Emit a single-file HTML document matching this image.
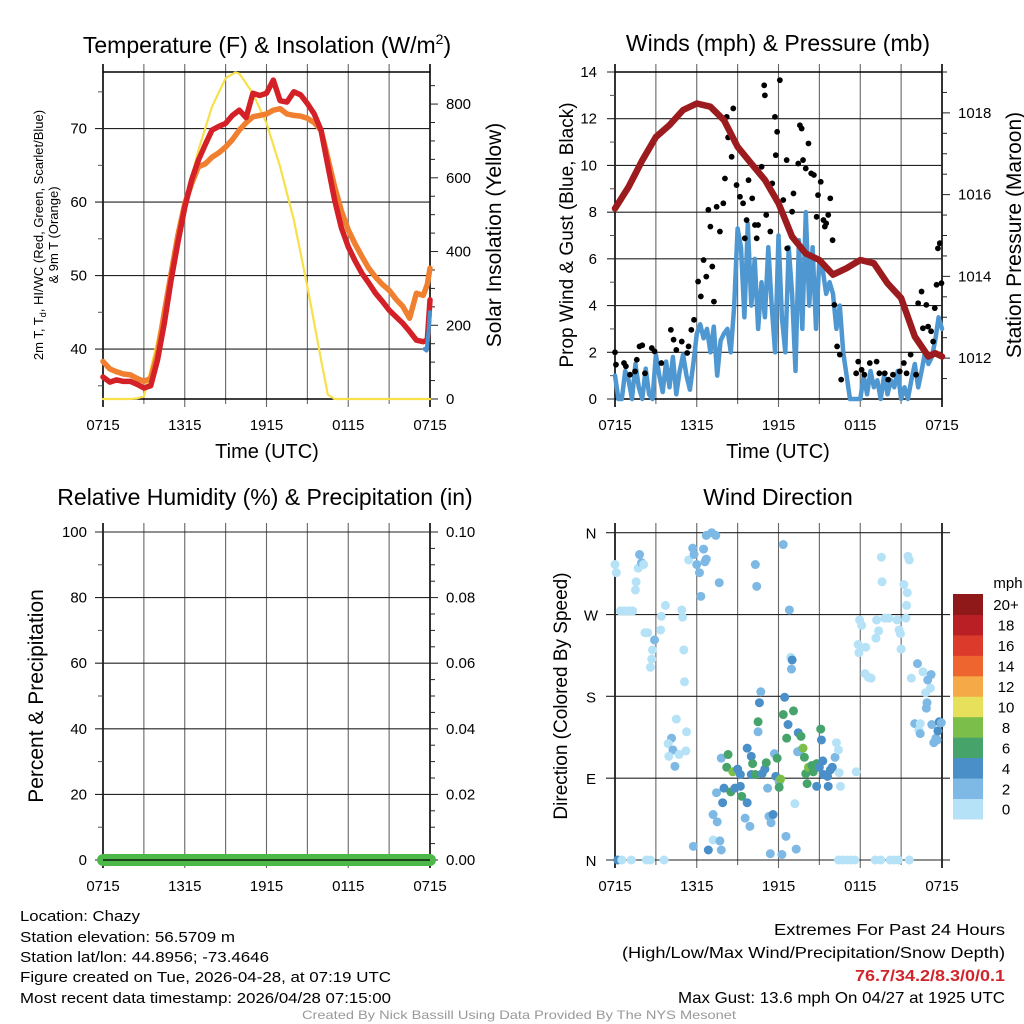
<!DOCTYPE html>
<html><head><meta charset="utf-8"><style>
html,body{margin:0;padding:0;background:#fff;}
svg{display:block;font-family:"Liberation Sans",Arial,sans-serif;}
</style></head><body>
<svg id="fig" width="1024" height="1024" viewBox="0 0 1024 1024" xmlns="http://www.w3.org/2000/svg">
<rect width="1024" height="1024" fill="#fff"/>
<g id="p1"></g>
<g id="p2"></g>
<g id="p3"></g>
<g id="p4"></g>
<text x="267" y="53" font-size="23" text-anchor="middle">Temperature (F) &amp; Insolation (W/m<tspan font-size="14" dy="-9">2</tspan><tspan dy="9">)</tspan></text>
<text x="778" y="51" font-size="23" text-anchor="middle">Winds (mph) &amp; Pressure (mb)</text>
<text x="265" y="505" font-size="23" text-anchor="middle">Relative Humidity (%) &amp; Precipitation (in)</text>
<text x="778" y="505" font-size="23" text-anchor="middle">Wind Direction</text>
<text transform="translate(43,235) rotate(-90)" font-size="13" text-anchor="middle">2m T, T<tspan font-size="9" dy="3">d</tspan><tspan dy="-3">, HI/WC (Red, Green, Scarlet/Blue)</tspan></text>
<text transform="translate(58,235) rotate(-90)" font-size="13" text-anchor="middle">&amp; 9m T (Orange)</text>
<text transform="translate(501,235) rotate(-90)" font-size="21" text-anchor="middle">Solar Insolation (Yellow)</text>
<text transform="translate(573,235) rotate(-90)" font-size="19" text-anchor="middle">Prop Wind &amp; Gust (Blue, Black)</text>
<text transform="translate(1021,235) rotate(-90)" font-size="21" text-anchor="middle">Station Pressure (Maroon)</text>
<text transform="translate(43,696) rotate(-90)" font-size="21" text-anchor="middle">Percent &amp; Precipitation</text>
<text transform="translate(567,696) rotate(-90)" font-size="19" text-anchor="middle">Direction (Colored By Speed)</text>
<text x="267" y="458" font-size="20" text-anchor="middle">Time (UTC)</text>
<text x="778" y="458" font-size="20" text-anchor="middle">Time (UTC)</text>
<g font-size="15">
<text x="20" y="921" textLength="120" lengthAdjust="spacingAndGlyphs">Location: Chazy</text>
<text x="20" y="942" textLength="215" lengthAdjust="spacingAndGlyphs">Station elevation: 56.5709 m</text>
<text x="20" y="962" textLength="249" lengthAdjust="spacingAndGlyphs">Station lat/lon: 44.8956; -73.4646</text>
<text x="20" y="982" textLength="371" lengthAdjust="spacingAndGlyphs">Figure created on Tue, 2026-04-28, at 07:19 UTC</text>
<text x="20" y="1003" textLength="371" lengthAdjust="spacingAndGlyphs">Most recent data timestamp: 2026/04/28 07:15:00</text>
</g>
<g font-size="16" text-anchor="end">
<text x="1005" y="935" textLength="231" lengthAdjust="spacingAndGlyphs">Extremes For Past 24 Hours</text>
<text x="1005" y="958" textLength="383" lengthAdjust="spacingAndGlyphs">(High/Low/Max Wind/Precipitation/Snow Depth)</text>
<text x="1005" y="981" fill="#d0262b" font-weight="bold" textLength="150" lengthAdjust="spacingAndGlyphs">76.7/34.2/8.3/0/0.1</text>
<text x="1005" y="1003" textLength="327" lengthAdjust="spacingAndGlyphs">Max Gust: 13.6 mph On 04/27 at 1925 UTC</text>
</g>
<text x="519" y="1019" font-size="12" fill="#999" text-anchor="middle" textLength="434" lengthAdjust="spacingAndGlyphs">Created By Nick Bassill Using Data Provided By The NYS Mesonet</text>
</svg>
<script>
// ---- data ----
const timeLabels = ["0715","1315","1915","0115","0715"];
const tempHours = [0,0.5,1,1.5,2,2.5,3,3.5,4,4.5,5,5.5,6,6.5,7,7.5,8,8.5,9,9.5,10,10.5,11,11.5,12,12.5,13,13.5,14,14.5,15,15.5,16,16.5,17,17.5,18,18.5,19,19.5,20,20.5,21,21.5,22,22.5,23,23.5,23.8,24];
const temp2m = [36.2,35.5,35.8,35.6,35.6,35.2,34.7,35.0,38.5,43.5,49.4,54.5,59.3,63.0,65.7,67.8,69.8,70.3,70.7,71.8,72.5,71.5,74.8,74.5,74.8,76.6,73.8,73.6,75.0,74.6,73.4,72.0,69.8,65.0,60.3,56.5,53.9,52.0,50.3,49.0,47.6,46.5,45.3,44.4,43.5,42.4,41.2,41.0,41.2,46.7];
const temp9m = [38.3,37.3,36.9,36.6,36.5,36.0,35.6,36.0,39.4,45.0,50.3,55.5,59.8,62.5,64.8,65.2,66.1,66.7,67.5,68.5,69.8,70.8,71.6,71.8,72.0,72.5,72.7,72.0,71.8,71.7,71.4,70.8,69.8,66.0,62.1,58.8,56.2,54.3,52.6,51.0,49.8,48.8,48.0,46.8,45.8,44.2,47.6,47.3,48.8,51.0];
const windChillHours = [23.6,23.75,23.9,24];
const windChill = [40.0,39.8,42.5,45.0];
const solarHours = [0,2,2.5,3,3.5,4,5,6,7,8,9,9.7,10,11,12,13,14,15,16,16.5,17,24];
const solar = [0,0,2,7,80,160,332,531,675,793,870,886,883,829,748,630,486,305,107,12,0,0];

const presHours = [0,1,2,3,4,5,6,7,8,9,10,11,12,13,14,15,16,17,18,19,20,21,22,23,23.5,24];
const pressure = [1015.66,1016.19,1016.84,1017.41,1017.7,1018.07,1018.23,1018.15,1017.82,1017.17,1016.76,1016.36,1015.79,1014.97,1014.56,1014.4,1014.04,1014.2,1014.4,1014.32,1013.83,1013.47,1012.53,1012.04,1012.12,1012.04];
// quarter-hourly prop wind (mph), starting at 0715
const windSpeed = [1.0,0,0,1.2,0.8,0,1.5,0.5,0,1.3,0.2,0,1.9,1.0,0.3,1.6,0.5,1.8,0.2,1.2,1.9,1.0,0.4,1.5,
2.8,3.2,2.6,3.0,2.0,3.1,1.0,2.5,2.8,3.0,2.0,4.0,
7.3,6.5,3.5,7.5,4.0,6.0,3.0,5.0,3.5,6.5,4.0,2.0,
7.0,3.5,2.0,6.5,4.5,1.2,6.8,3.0,8.0,4.0,6.5,3.0,
6.0,5.5,4.5,5.0,4.5,3.0,4.0,2.0,1.0,0,0,0,
0,1.0,0.2,1.2,0.5,0.8,0,1.0,0.2,0.8,0.5,1.2,0,0.5,0,0.8,1.5,0.5,1.2,2.0,1.5,1.8,2.5,3.5,
3.0];
const gustHours = [0,0.07,0.66,0.8,1.1,1.47,1.6,1.8,2.0,2.2,2.7,2.9,3.4,4.1,4.3,4.5,4.9,5.3,5.4,5.6,5.8,6.1,6.3,6.5,6.7,6.85,7.0,7.14,7.26,7.46,7.7,7.95,8.07,8.2,8.3,8.56,8.68,8.92,9.17,9.4,9.53,9.66,9.8,10.07,10.27,10.4,10.5,10.76,10.95,11.0,11.1,11.4,11.54,11.74,11.8,11.9,12.1,12.35,12.6,12.64,13.0,13.1,13.45,13.57,13.7,13.8,14.0,14.2,14.4,14.6,14.8,14.9,15.1,15.3,15.4,15.5,15.65,15.8,15.97,16.1,16.3,16.5,16.6,17.7,17.85,18.1,18.3,18.7,19.2,19.4,19.8,20.05,20.4,20.9,21.2,21.4,21.7,22.1,22.25,22.5,22.6,22.85,22.98,23.2,23.35,23.47,23.6,23.7,23.84,23.96];
const gusts = [2.0,1.47,1.54,1.4,1.04,1.18,1.68,2.25,2.3,1.1,2.18,2.04,1.54,2.96,2.54,2.1,2.46,1.97,2.25,2.96,3.39,5.03,4.39,5.95,5.24,8.1,7.38,5.67,4.17,8.23,7.17,8.38,9.44,12.08,11.2,10.37,12.44,9.16,8.66,8.38,6.88,7.66,9.37,8.59,7.45,6.88,7.45,9.94,13.43,13.0,7.88,7.17,9.23,12.08,10.44,11.44,13.65,8.52,10.23,6.45,8.02,8.8,10.08,11.72,11.58,10.23,9.87,10.94,9.66,9.59,7.8,8.73,9.3,7.66,7.38,7.52,7.88,8.59,6.8,4.03,2.25,1.9,0.83,1.1,1.6,1.25,1.04,1.54,1.6,1.1,1.1,0.83,1.04,1.18,1.54,1.1,1.9,1.04,4.1,4.6,3.03,4.03,3.1,2.9,2.46,3.89,4.89,6.45,6.67,4.96];

const precipTicks = ["0.00","0.02","0.04","0.06","0.08","0.10"];
const precipHours = [0,24];
const precipValues = [0,0];

const dirHours = [0,0.1,0.4,0.7,1.0,1.3,1.5,1.55,1.7,1.8,1.95,2.1,2.2,2.4,2.9,2.75,2.7,2.6,3.4,3.7,3.35,4.9,4.96,5.05,5.1,4.5,4.15,3.9,4.25,3.95,4.4,4.7,5.25,5.2,5.4,5.7,5.8,6.0,6.2,6.3,6.5,6.6,6.7,6.7,7.1,7.4,7.65,5.75,6.85,7.2,7.7,7.8,7.2,7.5,7.45,7.8,7.9,8.0,8.3,8.2,8.5,8.65,8.8,9.0,9.2,9.2,9.3,9.55,9.7,9.9,10.0,9.7,10.0,10.1,10.3,10.3,10.4,10.5,10.6,10.7,10.5,10.8,11.0,11.1,11.2,11.3,11.4,11.45,11.6,11.7,11.9,11.8,12.05,12.15,12.05,12.25,12.35,12.35,12.45,12.55,12.6,12.7,12.8,12.9,12.95,13.0,13.1,13.2,13.3,13.4,13.45,13.55,13.65,13.8,13.9,14.0,14.1,14.2,14.45,14.55,14.8,14.8,15.0,15.1,15.15,15.25,15.3,15.6,15.65,15.8,15.95,16.15,16.25,16.4,16.45,16.55,17.7,17.95,18.1,17.85,17.9,18.4,18.35,18.6,18.8,19.2,19.35,19.15,19.55,19.6,19.8,20.1,20.7,20.85,20.95,21.0,21.2,21.4,21.35,21.45,21.5,21.6,21.75,22.2,22.6,22.95,23.2,23.15,22.8,22.9,22.85,22.0,22.4,22.3,22.4,23.25,23.4,23.55,23.7,23.8,23.95,23.65,0.2,0.5,1.2,2.3,2.6,3.6,16.4,16.7,17.0,17.3,17.6,19.1,19.5,20.2,20.5,20.8,21.6];
const dirDegrees = [325,316,274,274,274,274,297,306,321,336,327,325,250,250,242,231,221,212,268,280,253,275,267,231,196,155,134,128,121,114,103,116,141,120,330,343,336,325,316,290,342,328,331,357,360,357,305,15,11,22,21,11,50,42,74,112,63,79,116,102,75,97,79,100,94,81,70,46,63,37,94,123,114,106,94,325,301,141,173,185,152,95,100,107,79,48,7,41,50,117,112,92,86,89,80,6,347,160,179,26,134,149,275,223,210,220,164,62,12,119,140,120,136,123,113,95,84,102,104,97,106,81,102,144,132,109,94,92,81,99,102,113,129,121,96,81,97,264,258,237,228,234,205,201,200,264,252,244,333,306,266,266,264,253,249,232,303,280,266,294,334,330,200,216,207,198,204,189,184,173,167,150,150,143,139,149,129,134,142,152,151,132,0,0,0,0,0,0,0,0,0,0,0,0,0,0,0,0,0];
const dirSpeeds = [1,1,1,1,1,1,1,1,1,3,3,1,1,1,3,1,1,1,1,1,1,1,1,1,1,1,3,1,3,1,3,1,1,1,1,3,3,3,3,3,3,3,3,3,3,3,3,3,5,1,3,3,3,3,3,3,5,5,7,7,7,9,5,5,5,5,7,3,5,3,5,5,5,7,7,3,3,3,5,3,7,5,5,7,3,3,3,3,5,3,7,5,3,9,7,3,3,7,5,3,7,5,3,1,3,5,7,1,3,3,5,3,7,9,7,7,7,9,7,7,7,5,5,7,5,5,5,5,5,5,5,3,1,1,1,1,1,1,1,1,1,1,1,1,1,1,1,1,1,1,1,1,1,1,1,1,1,1,1,1,1,1,1,3,1,3,3,1,1,3,3,3,1,1,3,3,3,3,5,5,3,3,5,1,1,1,1,1,1,1,1,1,1,1,1,1,1,1,1,1];
const dirTickLabels = ["N","E","S","W","N"];
const speedBins = ["0","2","4","6","8","10","12","14","16","18","20+"];
const speedColors = ["#b5e2f7","#7db9e4","#4a8fc8","#46a46b","#7bbf4a","#e6e05b","#f5a947","#ef6530","#dc3a2b","#bb1f26","#8f1819"];

// ---- helpers ----
const NS="http://www.w3.org/2000/svg";
function mk(parent, tag, attrs){const e=document.createElementNS(NS,tag);for(const k in attrs)e.setAttribute(k,attrs[k]);parent.appendChild(e);return e;}
function makeX(x0,x1){return t=>x0+(x1-x0)*t/24;}
function makeY(y0,y1,v0,v1){return v=>y0+(y1-y0)*(v-v0)/(v1-v0);}

function frame(g, x0,x1,y0,y1, gridTop, opts){
  const X=makeX(x0,x1);
  for(let h=0;h<=24;h+=3){
    const l=mk(g,'line',{x1:X(h),y1:gridTop,x2:X(h),y2:y1+(h%6===0?8:5),stroke:(h===0||h===24)?'#000':'#666','stroke-width':(h===0||h===24)?1.6:1.1});
    
    
  }
  timeLabels.forEach((s,i)=>{
    const t=mk(g,'text',{x:X(i*6),y:opts.labelY,'font-size':15,'text-anchor':'middle'});t.textContent=s;
    
    
  });
  return X;
}
function hgrid(g,x0,x1,y,label,lx){
  const l=mk(g,'line',{x1:x0-8,y1:y,x2:x1,y2:y,stroke:'#222','stroke-width':1.1});
  
  
  if(label!==null){const t=mk(g,'text',{x:lx,y:y+5,'font-size':15,'text-anchor':'end'});t.textContent=label;
  
  }
}
function rtick(g,x1,y,len,label,lx){
  const l=mk(g,'line',{x1:x1,y1:y,x2:x1+len,y2:y,stroke:'#222','stroke-width':1});
  
  
  if(label!==null){const t=mk(g,'text',{x:lx,y:y+5,'font-size':15});t.textContent=label;
  
  }
}
function ltick(g,x0,y){const l=mk(g,'line',{x1:x0-5,y1:y,x2:x0,y2:y,stroke:'#555','stroke-width':1});
  
  }
function poly(g,xs,ys,X,Y,color,w,name){
  const d=xs.map((t,i)=>(i?'L':'M')+X(t).toFixed(1)+','+Y(ys[i]).toFixed(1)).join('');
  const p=mk(g,'path',{d:d,fill:'none',stroke:color,'stroke-width':w,'stroke-linejoin':'round','stroke-linecap':'round'});
  
  
  return p;
}

// ---- panel 1 ----
(function(){
  const g=document.getElementById('p1');
  const x0=103,x1=430,y0=72,y1=399;
  const X=frame(g,x0,x1,y0,y1,64,{labelY:430});
  const Y=makeY(y1,y0,33.2,77.7);
  const YS=makeY(y1,y0,0,887);
  for(let v=35;v<=75;v+=5){ if(v%10===0) hgrid(g,x0,x1,Y(v),String(v),87); else ltick(g,x0,Y(v)); }
  for(let v=0;v<=850;v+=50){ rtick(g,x1,YS(v),v%200===0?8:5,v%200===0?String(v):null,446); }
  mk(g,'line',{x1:x0,y1:y0,x2:x1,y2:y0,stroke:'#000','stroke-width':1.4});
  mk(g,'line',{x1:x0,y1:y1,x2:x1,y2:y1,stroke:'#000','stroke-width':1.4});
  poly(g,solarHours,solar,X,YS,'#f7e04a',2.2,'solar-insolation-line');
  poly(g,tempHours,temp9m,X,Y,'#f08030',5.5,'temp-9m-line');
  poly(g,tempHours,temp2m,X,Y,'#d42027',5.5,'temp-2m-line');
  poly(g,windChillHours,windChill,X,Y,'#4a90cc',4,'wind-chill-line');
})();

// ---- panel 2 ----
(function(){
  const g=document.getElementById('p2');
  const x0=615,x1=942,y0=72,y1=399;
  const X=frame(g,x0,x1,y0,y1,64,{labelY:430});
  const Y=makeY(y1,y0,0,14);
  const YP=makeY(y1,y0,1011,1019);
  for(let v=0;v<=14;v+=1){ if(v%2===0) hgrid(g,x0,x1,Y(v),String(v),597); else ltick(g,x0,Y(v)); }
  for(let v=1011.5;v<=1019;v+=0.5){ rtick(g,x1,YP(v),v%2===0?8:5,v%2===0?String(v):null,958); }
  mk(g,'line',{x1:x0,y1:y0,x2:x1,y2:y0,stroke:'#000','stroke-width':1.4});
  mk(g,'line',{x1:x0,y1:y1,x2:x1,y2:y1,stroke:'#000','stroke-width':1.4});
  const windHours = windSpeed.map((v,i)=>i*0.25);
  poly(g,windHours,windSpeed,X,Y,'#4f97d1',4.5,'prop-wind-line');
  gustHours.forEach((t,i)=>{
    const c=mk(g,'circle',{cx:X(t),cy:Y(gusts[i]),r:2.9,fill:'#000'});
    
    
  });
  poly(g,presHours,pressure,X,YP,'#9b1b1e',6.5,'pressure-line');
})();

// ---- panel 3 ----
(function(){
  const g=document.getElementById('p3');
  const x0=103,x1=430,y0=532,y1=860;
  const X=frame(g,x0,x1,y0,y1,523,{labelY:891});
  const Y=makeY(y1,y0,0,100);
  const YR=makeY(y1,y0,0,0.10);
  for(let v=0;v<=100;v+=10){ if(v%20===0) hgrid(g,x0,x1,Y(v),String(v),87); else ltick(g,x0,Y(v)); }
  for(let i=0;i<=20;i++){ const v=i*0.005; rtick(g,x1,YR(v),i%4===0?8:5,i%4===0?precipTicks[i/4]:null,446); }
  poly(g,precipHours,precipValues,X,YR,'#4cb848',12,'precipitation-line');
  mk(g,'line',{x1:x0,y1:y1,x2:x1,y2:y1,stroke:'#000','stroke-width':1.2});
})();

// ---- panel 4 ----
(function(){
  const g=document.getElementById('p4');
  const x0=615,x1=942,y0=532.7,y1=860;
  const X=frame(g,x0,x1,y0,y1,523,{labelY:891});
  const Y=makeY(y1,y0,0,360);
  dirTickLabels.forEach((s,i)=>{
    const y=Y(i*90);
    const l=mk(g,'line',{x1:x0-9,y1:y,x2:x1+8,y2:y,stroke:'#222','stroke-width':1.1});
    
    
    const t=mk(g,'text',{x:591,y:y+6,'font-size':15,'text-anchor':'middle'});t.textContent=s;
    
    
  });
  dirHours.forEach((t,i)=>{
    const bin=Math.min(10,Math.floor(dirSpeeds[i]/2));
    const c=mk(g,'circle',{cx:X(t),cy:Y(dirDegrees[i]),r:4.5,fill:speedColors[bin]});
    
    
  });
  const cbX=953,cbW=30,cbTop=594,cbH=20.45;
  const mph=mk(g,'text',{x:1008,y:588,'font-size':15,'text-anchor':'middle'});mph.textContent='mph';
  
  
  speedBins.forEach((s,i)=>{
    const y=cbTop+(speedBins.length-1-i)*cbH;
    const r=mk(g,'rect',{x:cbX,y:y,width:cbW,height:cbH+0.5,fill:speedColors[i]});
    
    
    const t=mk(g,'text',{x:1006,y:y+cbH/2+6,'font-size':15,'text-anchor':'middle'});t.textContent=s;
    
    
  });
})();
</script>
</body></html>
